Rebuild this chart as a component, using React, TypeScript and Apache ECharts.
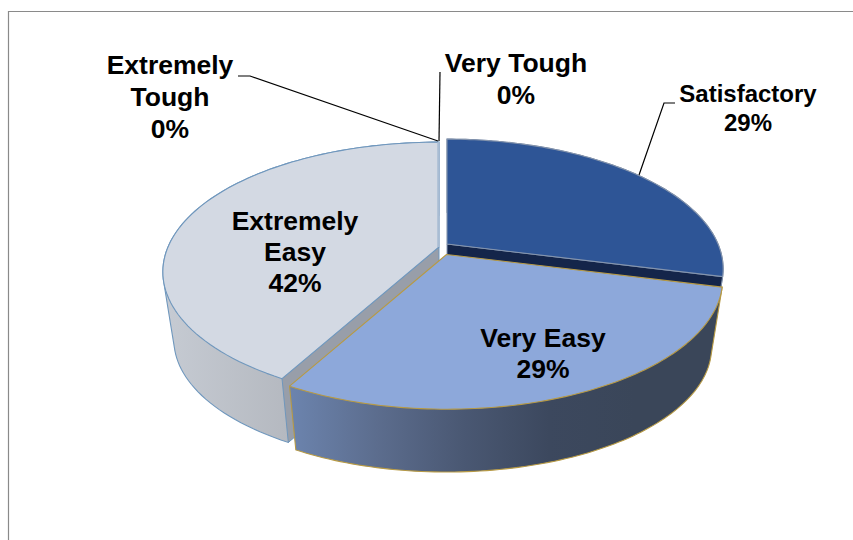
import React, { useEffect, useRef } from "react";
import * as echarts from "echarts";

// Survey responses, listed clockwise from twelve o'clock.
const categories = ["Satisfactory", "Very Easy", "Extremely Easy", "Extremely Tough", "Very Tough"];
const shares = [29, 29, 42, 0, 0];

// Label line breaks for each category.
const labelLines = [["Satisfactory"], ["Very Easy"], ["Extremely", "Easy"], ["Extremely", "Tough"], ["Very Tough"]];

// Back slices are painted first so the front slice can overlap them.
const paintOrder = [0, 2, 3, 4, 1];

// Tilted-disc projection of the pie.
const FOCAL_X = 271;
const FOCAL_Y = 125;
const PERSPECTIVE = 0.192;
const BASE_DROP = 69;
const BASE_SCALE = 0.96;

// Exploded centre of each slice.
const apexes: number[][] = [[447, 244], [446.5, 254.5], [439, 247], [438.5, 247], [438.5, 247]];

// Label centres and sizes.
const labelCenters: number[][] = [[748, 108], [543, 353], [295, 252], [170, 97], [516, 79]];
const labelSizes = [24, 26.5, 26.5, 26.5, 26.5];
const labelLeading = [29, 31, 31, 32, 32];

// Leader lines for the labels that sit outside the pie.
const leaders: (number[][] | null)[] = [
  [[675, 103], [664, 103], [639, 175]],
  null,
  null,
  [[238, 76], [250, 76], [438, 141]],
  [[440, 72], [439, 141]],
];

const gradient = (stops: string[]) =>
  new echarts.graphic.LinearGradient(0, 0, 1, 0, stops.map((color, i) => ({ offset: i / (stops.length - 1), color })));

// Fill and edge colours per category.
const topFills = ["#2e5596", "#8da8da", "#d3d9e3", "#a9bcd3", "#a9bcd3"];
const edgeColors = ["#8494ad", "#b79a45", "#6f97bd", "#a9bcd3", "#a9bcd3"];
const cutFills = ["#14254a", "#6b83ad", "#989ea9", "#a9bcd3", "#a9bcd3"];
const wallStops = [
  ["#14254a", "#14254a"],
  ["#6c84ae", "#5c6d8e", "#4a5873", "#3c485e", "#3a4659", "#3a4659"],
  ["#c6cbd3", "#b3b7be", "#a2a6ad"],
  ["#a9bcd3", "#a9bcd3"],
  ["#a9bcd3", "#a9bcd3"],
];

const TAU = Math.PI * 2;
const total = shares.reduce((sum, v) => sum + v, 0);

// Start and end angle of every slice, in radians clockwise from the top.
const spans = shares.map((_, i) => {
  const before = shares.slice(0, i).reduce((sum, v) => sum + v, 0);
  return [(before / total) * TAU, ((before + shares[i]) / total) * TAU];
});

const rimTop = (i: number, a: number) => {
  const d = 1 + PERSPECTIVE * Math.cos(a);
  return [apexes[i][0] + (FOCAL_X * Math.sin(a)) / d, apexes[i][1] - (FOCAL_Y * Math.cos(a)) / d];
};

const rimBase = (i: number, a: number) => {
  const d = 1 + PERSPECTIVE * Math.cos(a);
  return [
    apexes[i][0] + (BASE_SCALE * FOCAL_X * Math.sin(a)) / d,
    apexes[i][1] + BASE_DROP - (BASE_SCALE * FOCAL_Y * Math.cos(a)) / d,
  ];
};

const sampleArc = (fn: (i: number, a: number) => number[], i: number) => {
  const [a0, a1] = spans[i];
  const steps = 90;
  const pts: number[][] = [];
  for (let k = 0; k <= steps; k++) pts.push(fn(i, a0 + ((a1 - a0) * k) / steps));
  return pts;
};

// Outline of the side wall: the hull of the slice's upper and lower rims.
const hull = (input: number[][]) => {
  const pts = [...input].sort((p, q) => p[0] - q[0] || p[1] - q[1]);
  const cross = (o: number[], a: number[], b: number[]) =>
    (a[0] - o[0]) * (b[1] - o[1]) - (a[1] - o[1]) * (b[0] - o[0]);
  const half = (list: number[][]) => {
    const out: number[][] = [];
    for (const p of list) {
      while (out.length >= 2 && cross(out[out.length - 2], out[out.length - 1], p) <= 0) out.pop();
      out.push(p);
    }
    out.pop();
    return out;
  };
  return [...half(pts), ...half([...pts].reverse())];
};

const renderSlice = (params: any) => {
  const i = paintOrder[params.dataIndex];
  const children: any[] = [];
  const edge = edgeColors[i];

  if (shares[i] > 0) {
    const [a0, a1] = spans[i];
    const apexTop = apexes[i];
    const apexBase = [apexes[i][0], apexes[i][1] + BASE_DROP];
    const top = sampleArc(rimTop, i);
    const base = sampleArc(rimBase, i);

    children.push({
      type: "polygon",
      shape: { points: hull([...top, ...base]) },
      style: { fill: gradient(wallStops[i]), stroke: edge, lineWidth: 1.1 },
    });

    // A cut face shows only when it turns towards the viewer.
    const cutFace = (a: number) => ({
      type: "polygon",
      shape: { points: [apexTop, rimTop(i, a), rimBase(i, a), apexBase] },
      style: { fill: cutFills[i], stroke: edge, lineWidth: 1 },
    });
    if (Math.sin(a1) > 0.01) children.push(cutFace(a1));
    if (Math.sin(a0) < -0.01) children.push(cutFace(a0));

    children.push({
      type: "polygon",
      shape: { points: [apexTop, ...top] },
      style: { fill: topFills[i], stroke: edge, lineWidth: 1.1, lineJoin: "round" },
    });
  } else {
    // An empty slice collapses to a thin seam along its radius.
    const tip = rimTop(i, spans[i][0]);
    children.push({
      type: "line",
      shape: { x1: apexes[i][0], y1: apexes[i][1], x2: tip[0], y2: tip[1] },
      style: { stroke: edge, lineWidth: 2 },
    });
  }

  const leader = leaders[i];
  if (leader) {
    children.push({
      type: "polyline",
      shape: { points: leader },
      style: { fill: "none", stroke: "#000000", lineWidth: 1.2 },
    });
  }

  children.push({
    type: "text",
    style: {
      x: labelCenters[i][0],
      y: labelCenters[i][1],
      text: [...labelLines[i], `${shares[i]}%`].join("\n"),
      font: `bold ${labelSizes[i]}px "Liberation Sans", Arial, sans-serif`,
      lineHeight: labelLeading[i],
      fill: "#000000",
      align: "center",
      verticalAlign: "middle",
    },
  });

  return { type: "group", children };
};

export default function App() {
  const ref = useRef<HTMLDivElement>(null);

  useEffect(() => {
    if (!ref.current) return;
    const chart = echarts.init(ref.current, undefined, { renderer: "svg" });
    chart.setOption({
      animation: false,
      backgroundColor: "#ffffff",
      graphic: [
        {
          type: "polyline",
          shape: { points: [[8.5, 540], [8.5, 11.5], [853, 11.5]] },
          style: { fill: "none", stroke: "#8a8a8a", lineWidth: 1.2 },
        },
      ],
      series: [
        {
          type: "custom",
          coordinateSystem: "none",
          silent: true,
          renderItem: renderSlice,
          data: paintOrder.map((i) => ({ name: categories[i], value: shares[i] })),
        },
      ],
    });
    return () => chart.dispose();
  }, []);

  return <div ref={ref} style={{ position: "fixed", left: 0, top: 0, width: 853, height: 540 }} />;
}
